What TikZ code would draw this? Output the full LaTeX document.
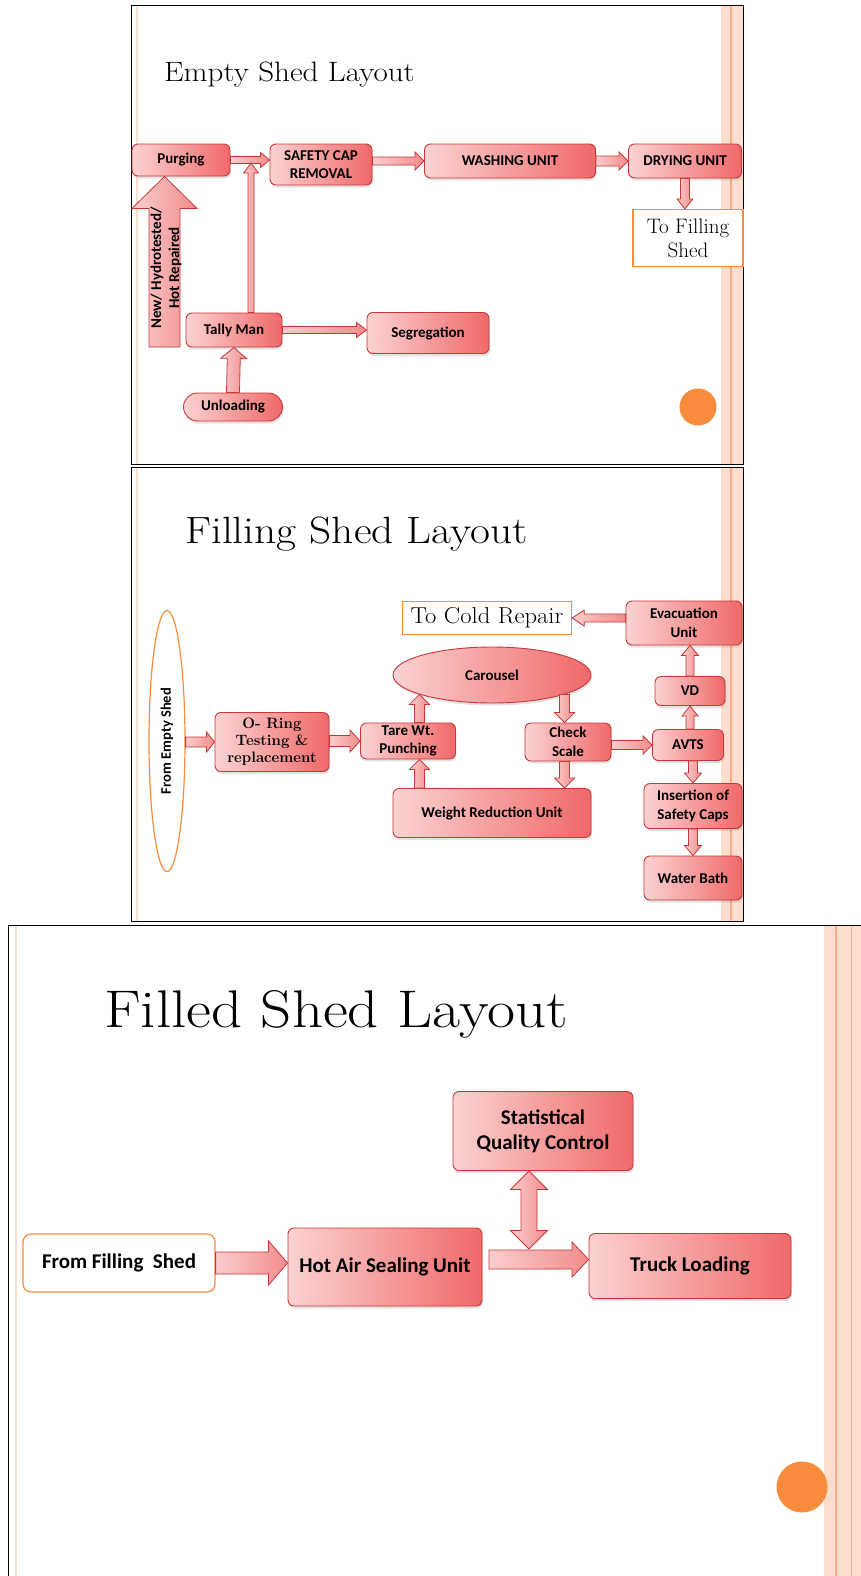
\documentclass[tikz,border=0pt]{standalone}
\usepackage{fontspec}
\newfontfamily\boxfont{Carlito}
\usetikzlibrary{calc,shapes.geometric,shadows}
\definecolor{unitline}{RGB}{200,55,55}
\definecolor{unitlight}{RGB}{251,210,210}
\definecolor{unitdark}{RGB}{240,105,105}
\definecolor{arrlight}{RGB}{250,205,205}
\definecolor{arrdark}{RGB}{242,140,140}
\definecolor{slideorange}{RGB}{248,140,60}
\definecolor{peach}{RGB}{252,222,206}
\definecolor{peachline}{RGB}{248,170,130}
\tikzset{arrshaft/.store in=\arrshaft, arrhead/.store in=\arrhead, arrlen/.store in=\arrlen,
  arrshaft=4pt, arrhead=9pt, arrlen=10pt}

\begin{document}
\begin{tikzpicture}[x=1pt,y=1pt]
\tikzstyle{every node}+=[inner sep=0pt]
\tikzstyle{unit}=[draw=unitline, line width=0.9pt, rounded corners=6pt, left color=unitlight, right color=unitdark,
  align=center, font=\boxfont\bfseries\fontsize{15}{18.5}\selectfont,
  drop shadow={shadow xshift=1pt, shadow yshift=-2.5pt, opacity=0.22}]
\tikzstyle{bigunit}=[unit, font=\boxfont\bfseries\fontsize{21}{25}\selectfont]
\tikzstyle{outbox}=[draw=slideorange, line width=1.2pt, fill=white, align=center]
\tikzstyle{dot}=[circle, fill=slideorange]
\tikzstyle{blockarrow}=[draw=unitline, line width=0.8pt, line join=miter, left color=arrlight, right color=arrdark,
  to path={($(\tikztostart)!\arrshaft!90:(\tikztotarget)$)
  -- ($($(\tikztotarget)!\arrlen!(\tikztostart)$)!\arrshaft!90:(\tikztotarget)$)
  -- ($($(\tikztotarget)!\arrlen!(\tikztostart)$)!\arrhead!90:(\tikztotarget)$)
  -- (\tikztotarget)
  -- ($($(\tikztotarget)!\arrlen!(\tikztostart)$)!\arrhead!-90:(\tikztotarget)$)
  -- ($($(\tikztotarget)!\arrlen!(\tikztostart)$)!\arrshaft!-90:(\tikztotarget)$)
  -- ($(\tikztostart)!\arrshaft!-90:(\tikztotarget)$) -- cycle}]
\tikzstyle{dblarrow}=[draw=unitline, line width=0.8pt, line join=miter, left color=arrlight, right color=arrdark,
  to path={(\tikztostart)
  -- ($($(\tikztostart)!\arrlen!(\tikztotarget)$)!\arrhead!90:(\tikztotarget)$)
  -- ($($(\tikztostart)!\arrlen!(\tikztotarget)$)!\arrshaft!90:(\tikztotarget)$)
  -- ($($(\tikztotarget)!\arrlen!(\tikztostart)$)!\arrshaft!90:(\tikztotarget)$)
  -- ($($(\tikztotarget)!\arrlen!(\tikztostart)$)!\arrhead!90:(\tikztotarget)$)
  -- (\tikztotarget)
  -- ($($(\tikztotarget)!\arrlen!(\tikztostart)$)!\arrhead!-90:(\tikztotarget)$)
  -- ($($(\tikztotarget)!\arrlen!(\tikztostart)$)!\arrshaft!-90:(\tikztotarget)$)
  -- ($($(\tikztostart)!\arrlen!(\tikztotarget)$)!\arrshaft!-90:(\tikztotarget)$)
  -- ($($(\tikztostart)!\arrlen!(\tikztotarget)$)!\arrhead!-90:(\tikztotarget)$) -- cycle}]
\useasboundingbox (0,0) rectangle (861,-1576);
\fill[white] (0,0) rectangle (861,-1576);

% slide frames
\fill[peach] (721,-5) rectangle (743,-464);
\draw[peachline, line width=1.2pt] (731,-5) -- (731,-464);
\draw[peach, line width=1.5pt] (137,-5) -- (137,-464);
\draw[black, line width=0.8pt] (131,-5) rectangle (743,-464);
\fill[peach] (721,-467) rectangle (743,-921);
\draw[peachline, line width=1.2pt] (731,-467) -- (731,-921);
\draw[peach, line width=1.5pt] (137,-467) -- (137,-921);
\draw[black, line width=0.8pt] (131,-467) rectangle (743,-921);
\fill[peach] (824,-925) rectangle (861,-1576);
\draw[peachline, line width=1.2pt] (836,-925) -- (836,-1576);
\draw[peachline, line width=1pt] (851,-925) -- (851,-1576);
\draw[peach, line width=1.5pt] (16,-925) -- (16,-1576);
\draw[black, line width=0.8pt] (8,-1576) -- (8,-925) -- (861,-925);

% empty shed
\node[anchor=base west, xscale=1.11, font=\fontsize{28}{30}\selectfont] (title1) at (164,-82) {Empty Shed Layout};
\node[unit, minimum width=98pt, minimum height=32pt] (purging) at (181,-160) {Purging};
\node[unit, minimum width=102pt, minimum height=41pt] (safetycap) at (321,-164.5) {SAFETY CAP\\REMOVAL};
\node[unit, minimum width=171pt, minimum height=34pt] (washing) at (510,-161) {WASHING UNIT};
\node[unit, minimum width=113pt, minimum height=34pt] (drying) at (685,-161) {DRYING UNIT};
\node[outbox, minimum width=110pt, minimum height=57pt, font=\fontsize{21}{24}\selectfont] (tofilling) at (688,-238) {To Filling\\Shed};
\node[unit, minimum width=96pt, minimum height=34pt] (tally) at (234,-330) {Tally Man};
\node[unit, minimum width=122pt, minimum height=41pt] (segregation) at (428,-333) {Segregation};
\node[unit, rounded corners=14pt, minimum width=99pt, minimum height=28pt] (unloading) at (233,-407) {Unloading};
\node[dot, minimum size=37pt] (dot1) at (698,-407) {};
\coordinate (capjoin) at (251,-163);
\coordinate (newin) at (164.5,-347);

\draw[blockarrow, arrshaft=15.5pt, arrhead=32.5pt, arrlen=32pt] (newin) to (newin |- purging.south);
\node[rotate=90, align=center, font=\boxfont\bfseries\fontsize{15}{18}\selectfont] (newlabel) at (166,-268) {New/ Hydrotested/\\Hot Repaired};
\draw[blockarrow, arrshaft=3.5pt, arrhead=7.5pt, arrlen=9pt] (purging.east) to (purging.east -| safetycap.west);
\draw[blockarrow, arrshaft=3pt, arrhead=7.5pt, arrlen=10pt] (tally.north -| capjoin) to (capjoin);
\draw[blockarrow, arrshaft=4pt, arrhead=9pt, arrlen=9pt] (safetycap.east |- washing.west) to (washing.west);
\draw[blockarrow, arrshaft=5pt, arrhead=9pt, arrlen=9pt] (washing.east) to (drying.west);
\draw[blockarrow, arrshaft=4.5pt, arrhead=8pt, arrlen=10pt] (drying.south) to (drying.south |- tofilling.north);
\draw[blockarrow, arrshaft=3.5pt, arrhead=7.5pt, arrlen=10pt] (tally.east) to (tally.east -| segregation.west);
\draw[blockarrow, arrshaft=6.5pt, arrhead=13pt, arrlen=11pt] (unloading.north) to (tally.south);

% filling shed
\node[anchor=base west, xscale=1.14, font=\fontsize{38}{42}\selectfont] (title2) at (185,-543) {Filling Shed Layout};
\node[ellipse, draw=slideorange, line width=1.2pt, fill=white, rotate=90, minimum width=261pt, minimum height=36pt,
  font=\boxfont\bfseries\fontsize{14.5}{17}\selectfont] (fromempty) at (167,-741) {From Empty Shed};
\node[unit, minimum width=114pt, minimum height=59pt, font=\bfseries\fontsize{15}{17}\selectfont] (oring) at (272,-742) {O- Ring\\Testing \&\\replacement};
\node[unit, minimum width=95pt, minimum height=36pt] (tare) at (408,-741) {Tare Wt.\\Punching};
\node[unit, ellipse, minimum width=198pt, minimum height=56pt] (carousel) at (492,-675) {Carousel};
\node[unit, minimum width=86pt, minimum height=38pt] (check) at (568,-742) {Check\\Scale};
\node[unit, minimum width=71pt, minimum height=31pt] (avts) at (688,-745) {AVTS};
\node[unit, minimum width=70pt, minimum height=29pt] (vd) at (690,-691) {VD};
\node[unit, minimum width=116pt, minimum height=44pt] (evac) at (684,-623) {Evacuation\\Unit};
\node[outbox, minimum width=158pt, minimum height=33pt, xscale=1.07, font=\fontsize{23}{25}\selectfont] (coldrepair) at (487,-618) {To Cold Repair};
\node[unit, minimum width=198pt, minimum height=49pt] (wru) at (492,-813) {Weight Reduction Unit};
\node[unit, minimum width=98pt, minimum height=45pt] (insertion) at (693,-806) {Insertion of\\Safety Caps};
\node[unit, minimum width=98pt, minimum height=44pt] (water) at (693,-878) {Water Bath};

\draw[blockarrow, arrshaft=5pt, arrhead=10pt, arrlen=8pt] (fromempty.south |- oring.west) to (oring.west);
\draw[blockarrow, arrshaft=5.5pt, arrhead=11pt, arrlen=10pt] (oring.east |- tare.west) to (tare.west);
\draw[blockarrow, arrshaft=5pt, arrhead=10pt, arrlen=10pt] (tare.north -| carousel.195) to (carousel.195);
\draw[blockarrow, arrshaft=5pt, arrhead=10pt, arrlen=10pt] (carousel.345) to (check.north -| carousel.345);
\draw[blockarrow, arrshaft=5pt, arrhead=10pt, arrlen=10pt] (check.south -| carousel.345) to (wru.north -| carousel.345);
\draw[blockarrow, arrshaft=5pt, arrhead=10pt, arrlen=10pt] (wru.north -| carousel.195) to (tare.south -| carousel.195);
\draw[blockarrow, arrshaft=4.5pt, arrhead=9pt, arrlen=9pt] (check.east |- avts.west) to (avts.west);
\draw[blockarrow, arrshaft=4pt, arrhead=8pt, arrlen=10pt] (vd.south |- avts.north) to (vd.south);
\draw[blockarrow, arrshaft=4pt, arrhead=8.5pt, arrlen=10pt] (vd.north) to (vd.north |- evac.south);
\draw[blockarrow, arrshaft=4pt, arrhead=8pt, arrlen=12pt] (evac.west |- coldrepair.east) to (coldrepair.east);
\draw[blockarrow, arrshaft=4.5pt, arrhead=8.5pt, arrlen=10pt] (avts.south -| insertion.north) to (insertion.north);
\draw[blockarrow, arrshaft=4.5pt, arrhead=8.5pt, arrlen=10pt] (insertion.south) to (water.north);

% filled shed
\node[anchor=base west, xscale=1.15, font=\fontsize{53}{58}\selectfont] (title3) at (104,-1027) {Filled Shed Layout};
\node[outbox, rounded corners=8pt, minimum width=192pt, minimum height=58pt,
  font=\boxfont\bfseries\fontsize{21}{25}\selectfont] (fromfilling) at (119,-1263) {From Filling~~Shed};
\node[bigunit, minimum width=194pt, minimum height=78pt] (hotair) at (385,-1267) {Hot Air Sealing Unit};
\node[bigunit, minimum width=202pt, minimum height=65pt] (truck) at (690,-1266) {Truck Loading};
\node[bigunit, minimum width=180pt, minimum height=79pt] (sqc) at (543,-1131) {Statistical\\Quality Control};
\node[dot, minimum size=51pt] (dot3) at (802,-1487) {};
\coordinate (sealout) at (489,-1259.5);
\coordinate (qcjoin) at (529,-1249);

\draw[blockarrow, arrshaft=11pt, arrhead=22pt, arrlen=19pt] (fromfilling.east) to (fromfilling.east -| hotair.west);
\draw[blockarrow, arrshaft=9.5pt, arrhead=17.5pt, arrlen=16.5pt] (sealout) to (sealout -| truck.west);
\draw[dblarrow, arrshaft=8pt, arrhead=18.5pt, arrlen=18.5pt] (sqc.south -| qcjoin) to (qcjoin);
\end{tikzpicture}
\end{document}
